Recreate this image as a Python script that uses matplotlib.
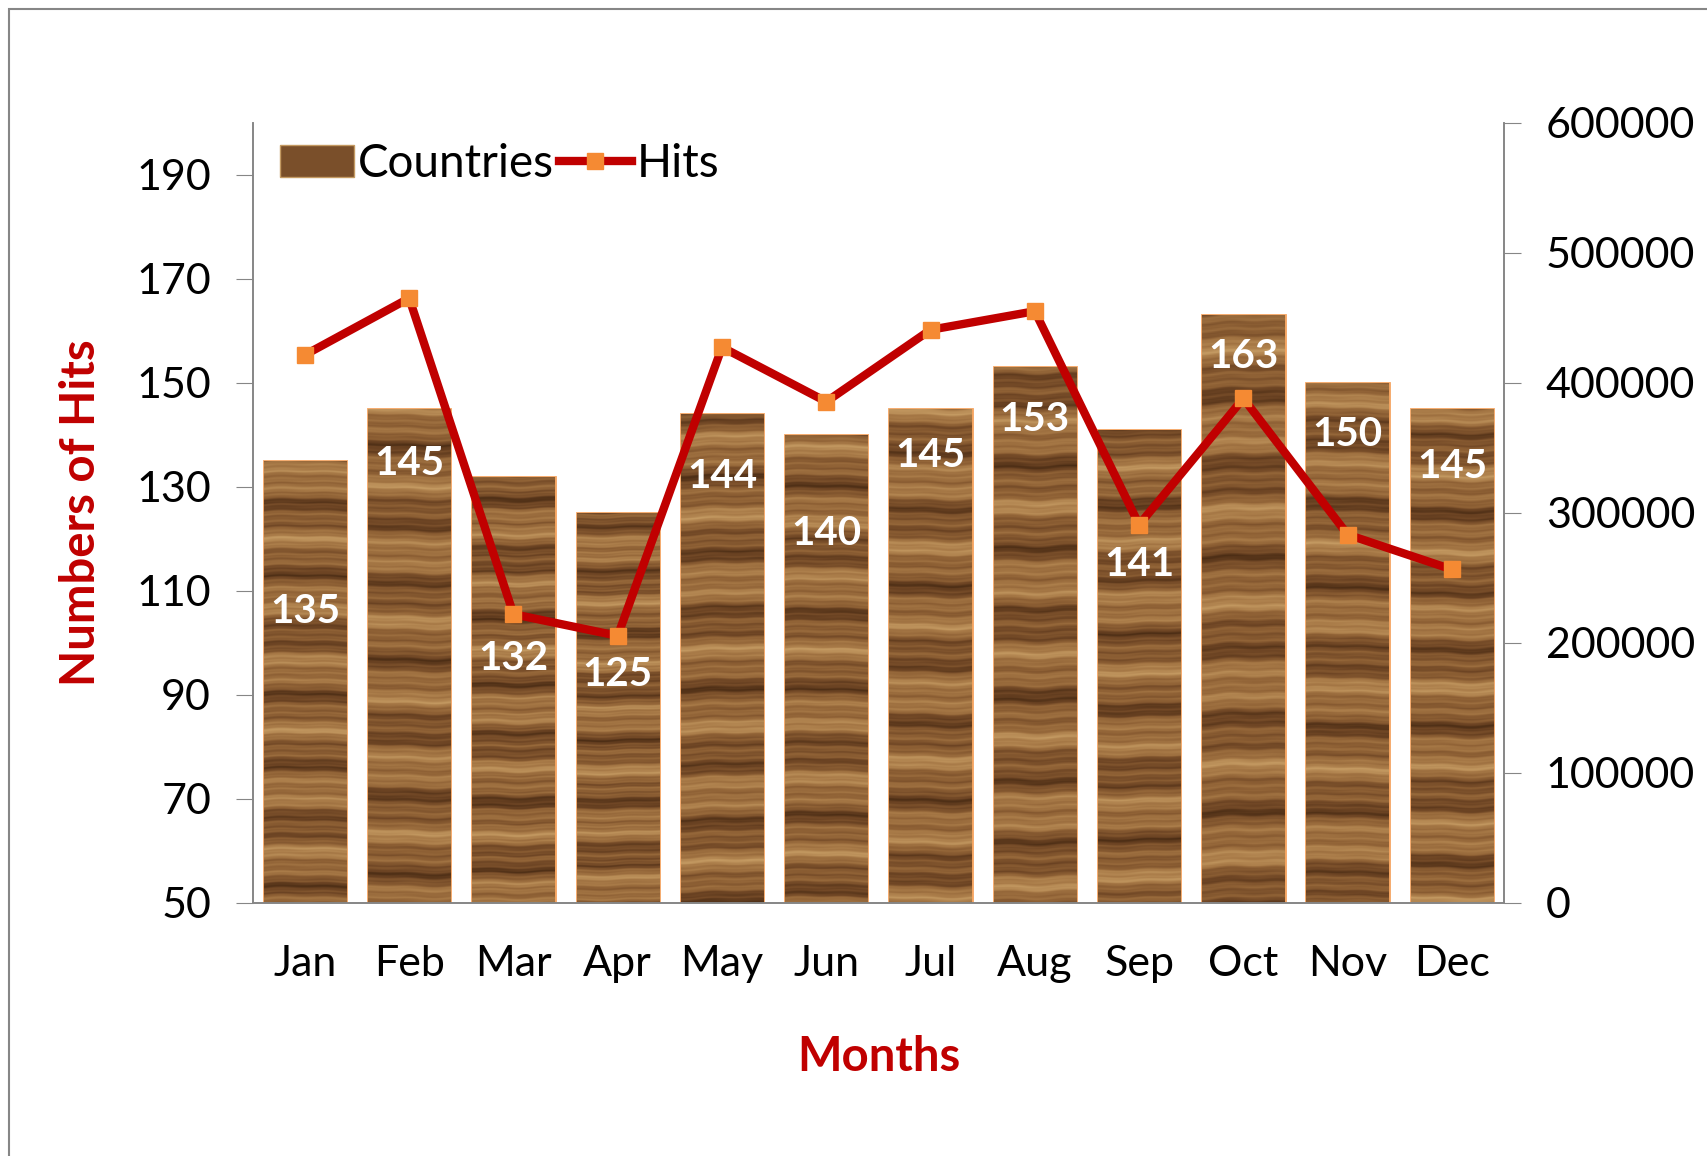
import numpy as np
import matplotlib.pyplot as plt
from matplotlib.colors import LinearSegmentedColormap
from matplotlib.patches import Patch, Rectangle
from matplotlib.lines import Line2D

plt.rcParams['font.family'] = ['Lato', 'DejaVu Sans']

# Data
months = ['Jan', 'Feb', 'Mar', 'Apr', 'May', 'Jun',
          'Jul', 'Aug', 'Sep', 'Oct', 'Nov', 'Dec']
countries = [135, 145, 132, 125, 144, 140, 145, 153, 141, 163, 150, 145]
hits = [421600, 465200, 222100, 205400, 427500, 385600,
        440900, 455200, 290900, 388100, 283300, 256500]

# how far below the bar top each label sits (left axis units)
label_drop = [29, 10.5, 35, 31, 12, 19, 9, 10, 26, 8, 10, 11]

dark_red = '#C00000'
wood = LinearSegmentedColormap.from_list(
    'wood', ['#4a2c14', '#6e4524', '#8f6135', '#a97b48', '#c49a62'])


def wood_texture(h=400, w=80, shift=0.0):
    # plain striped grain, deterministic
    y = np.arange(h)[:, None].astype(float)
    x = np.arange(w)[None, :].astype(float)
    wob = 0.8 * np.sin(x * 0.05 + shift) + 0.5 * np.sin(x * 0.13 + 2 * shift)
    yy = y + wob
    v = (0.55 + 0.20 * np.sin(yy * 0.11 + shift)
         + 0.14 * np.sin(yy * 0.29 + 1.7 * shift)
         + 0.09 * np.sin(yy * 0.83 + 0.3 * np.sin(x * 0.09))
         + 0.05 * np.sin(yy * 2.1 + x * 0.02))
    return np.clip(v, 0, 1)


fig = plt.figure(figsize=(17.08, 11.56), dpi=100)
ax = fig.add_axes([0.148, 0.219, 0.7326, 0.6746])
ax2 = ax.twinx()

xs = np.arange(len(months))
bars = ax.bar(xs, countries, width=0.79, bottom=0, color='#7a4f2a',
              edgecolor='#f4a460', linewidth=2, zorder=2)

for i, b in enumerate(bars):
    x0 = b.get_x()
    x1 = x0 + b.get_width()
    im = ax.imshow(wood_texture(shift=i * 1.3), cmap=wood,
                   extent=(x0, x1, 50, b.get_height()), aspect='auto',
                   origin='upper', zorder=2.5, interpolation='bilinear')
    im.set_clip_path(b)

ax.set_xlim(-0.5, len(months) - 0.5)
ax.set_ylim(50, 200)
ax.set_yticks(range(50, 191, 20))
ax.set_xticks(xs)
ax.set_xticklabels(months)

ax2.plot(xs, hits, color=dark_red, linewidth=6, marker='s', markersize=12,
         markerfacecolor='#f58a33', markeredgecolor='#f58a33', zorder=3)
ax2.set_ylim(0, 600000)
ax2.set_yticks(range(0, 600001, 100000))

for i, v in enumerate(countries):
    ax2.text(xs[i], (v - label_drop[i] - 50) / 150 * 600000, str(v),
             ha='center', va='center', color='white', fontsize=29,
             fontweight='bold', zorder=5)

for a in (ax, ax2):
    a.spines['top'].set_visible(False)
    for s in ('left', 'right', 'bottom'):
        a.spines[s].set_color('#868686')
        a.spines[s].set_linewidth(1.2)
    a.tick_params(axis='y', labelsize=31, length=12, color='#868686', pad=18)
ax.tick_params(axis='x', labelsize=31, length=0, pad=30)

ax.set_ylabel('Numbers of Hits', color=dark_red, fontsize=34,
              fontweight='bold', labelpad=24)
ax.set_xlabel('Months', color=dark_red, fontsize=34, fontweight='bold',
              labelpad=38)

handles = [Patch(facecolor='#7a4f2a', edgecolor='#c49a62', label='Countries'),
           Line2D([], [], color=dark_red, linewidth=6, marker='s',
                  markersize=12, markerfacecolor='#f58a33',
                  markeredgecolor='#f58a33', label='Hits')]
ax2.legend(handles=handles, loc='upper left', ncol=2, frameon=False,
           fontsize=33, handlelength=1.6, handletextpad=0.1,
           columnspacing=0.1, borderaxespad=0.2, bbox_to_anchor=(0.0, 1.01))

# outer chart border
fig.patches.append(Rectangle((0.005, -0.01), 1.2, 1.0025, transform=fig.transFigure,
                             fill=False, edgecolor='#868686', linewidth=1.5))

fig.savefig('out.png', dpi=100)
